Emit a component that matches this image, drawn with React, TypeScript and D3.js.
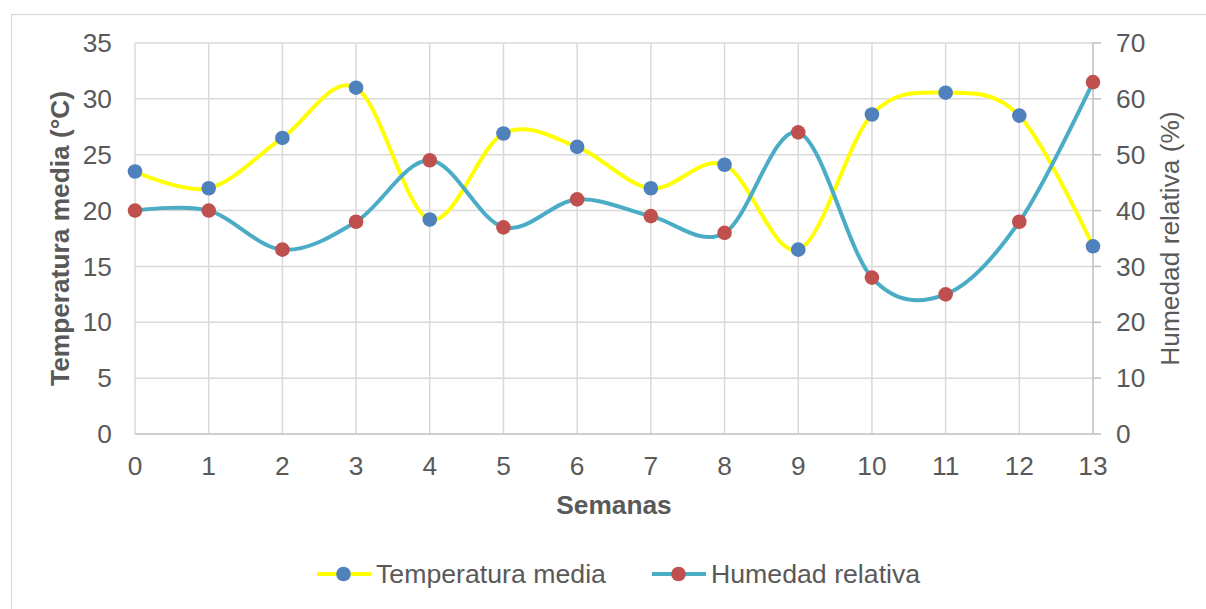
import React from "react";
import * as d3 from "d3";

const weeks = [0, 1, 2, 3, 4, 5, 6, 7, 8, 9, 10, 11, 12, 13];
const temperatura = [23.5, 22.0, 26.5, 31.0, 19.2, 26.9, 25.7, 22.0, 24.1, 16.5, 28.6, 30.55, 28.5, 16.8];
const humedad = [40, 40, 33, 38, 49, 37, 42, 39, 36, 54, 28, 25, 38, 63];
const leftTicks = [0, 5, 10, 15, 20, 25, 30, 35];
const rightTicks = [0, 10, 20, 30, 40, 50, 60, 70];
const seriesNames = ["Temperatura media", "Humedad relativa"];

const W = 1206;
const H = 609;
const plot = { left: 135, right: 1093, top: 43, bottom: 434 };
const FONT = "'Liberation Sans', Arial, sans-serif";
const FS = 26.3;
const TEXT = "#595959";
const GRID = "#d9d9d9";
const AXIS = "#bfbfbf";
const YELLOW = "#FFFF00";
const BLUE = "#4F81BD";
const TEAL = "#4BACC6";
const RED = "#C0504D";

export default function App() {
  const x = d3.scaleLinear().domain([0, 13]).range([plot.left, plot.right]);
  const yL = d3.scaleLinear().domain([0, 35]).range([plot.bottom, plot.top]);
  const yR = d3.scaleLinear().domain([0, 70]).range([plot.bottom, plot.top]);

  const lineT = d3
    .line<number>()
    .x((_, i) => x(weeks[i]))
    .y((d) => yL(d))
    .curve(d3.curveCatmullRom.alpha(0));
  const lineH = d3
    .line<number>()
    .x((_, i) => x(weeks[i]))
    .y((d) => yR(d))
    .curve(d3.curveCatmullRom.alpha(0));

  const r = 7.3;
  const lw = 4;
  const legY = 574;

  return (
    <svg
      width={W}
      height={H}
      style={{ position: "absolute", left: 0, top: 0, background: "#fff" }}
      fontFamily={FONT}
    >
      <rect x={0} y={0} width={W} height={H} fill="#fff" />
      <rect x={11.5} y={14.5} width={1210} height={620} fill="#fff" stroke={GRID} strokeWidth={1.2} />

      {leftTicks.map((t) =>
        t === 0 ? null : (
          <line key={"h" + t} x1={plot.left} x2={plot.right} y1={yL(t)} y2={yL(t)} stroke={GRID} strokeWidth={1.5} />
        )
      )}
      {weeks.map((w) =>
        w === 0 || w === 13 ? null : (
          <line key={"v" + w} x1={x(w)} x2={x(w)} y1={plot.top} y2={plot.bottom} stroke={GRID} strokeWidth={1.5} />
        )
      )}
      <line x1={plot.left} x2={plot.left} y1={plot.top} y2={plot.bottom} stroke={GRID} strokeWidth={1.5} />
      <line x1={plot.right} x2={plot.right} y1={plot.top} y2={plot.bottom} stroke={AXIS} strokeWidth={1.5} />
      <line x1={plot.left} x2={plot.right} y1={plot.bottom} y2={plot.bottom} stroke={AXIS} strokeWidth={1.5} />
      {rightTicks.map((t) => (
        <line key={"rt" + t} x1={plot.right} x2={plot.right + 8} y1={yR(t)} y2={yR(t)} stroke={AXIS} strokeWidth={1.5} />
      ))}

      {leftTicks.map((t) => (
        <text key={"lt" + t} x={112} y={yL(t)} dy="0.35em" textAnchor="end" fontSize={FS} fill={TEXT}>
          {t}
        </text>
      ))}
      {rightTicks.map((t) => (
        <text key={"rl" + t} x={1116} y={yR(t)} dy="0.35em" textAnchor="start" fontSize={FS} fill={TEXT}>
          {t}
        </text>
      ))}
      {weeks.map((w) => (
        <text key={"xt" + w} x={x(w)} y={466} dy="0.35em" textAnchor="middle" fontSize={FS} fill={TEXT}>
          {w}
        </text>
      ))}

      <text x={614} y={505} dy="0.35em" textAnchor="middle" fontSize={FS} fontWeight="bold" fill={TEXT}>
        Semanas
      </text>
      <text
        transform={`translate(60,${(plot.top + plot.bottom) / 2}) rotate(-90)`}
        dy="0.35em"
        textAnchor="middle"
        fontSize={FS}
        fontWeight="bold"
        fill={TEXT}
      >
        Temperatura media (°C)
      </text>
      <text
        transform={`translate(1170,${(plot.top + plot.bottom) / 2}) rotate(-90)`}
        dy="0.35em"
        textAnchor="middle"
        fontSize={FS}
        fill={TEXT}
      >
        Humedad relativa (%)
      </text>

      <path d={lineT(temperatura) || ""} fill="none" stroke={YELLOW} strokeWidth={lw} />
      {temperatura.map((v, i) => (
        <circle key={"tm" + i} cx={x(weeks[i])} cy={yL(v)} r={r} fill={BLUE} />
      ))}
      <path d={lineH(humedad) || ""} fill="none" stroke={TEAL} strokeWidth={lw} />
      {humedad.map((v, i) => (
        <circle key={"hm" + i} cx={x(weeks[i])} cy={yR(v)} r={r} fill={RED} />
      ))}

      <line x1={317} x2={371} y1={legY} y2={legY} stroke={YELLOW} strokeWidth={lw} />
      <circle cx={343.5} cy={legY} r={r} fill={BLUE} />
      <text x={376} y={legY} dy="0.35em" fontSize={FS + 0.4} fill={TEXT}>
        {seriesNames[0]}
      </text>
      <line x1={652} x2={706} y1={legY} y2={legY} stroke={TEAL} strokeWidth={lw} />
      <circle cx={678.5} cy={legY} r={r} fill={RED} />
      <text x={711} y={legY} dy="0.35em" fontSize={FS + 0.4} fill={TEXT}>
        {seriesNames[1]}
      </text>
    </svg>
  );
}
